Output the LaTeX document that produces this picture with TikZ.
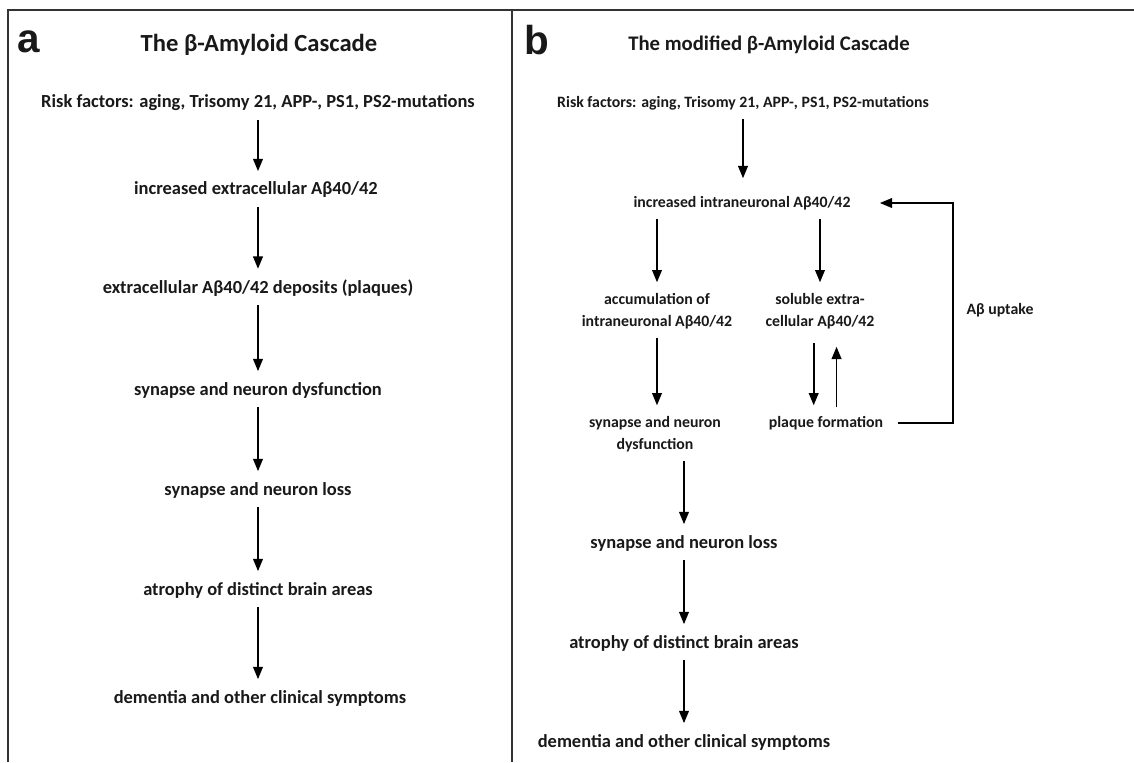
\documentclass[tikz,border=0pt]{standalone}
\usepackage{fontspec}
\setmainfont{Carlito}
\newfontfamily\panelfont{Liberation Sans}
\usetikzlibrary{arrows.meta}
\begin{document}
\begin{tikzpicture}[x=0.02cm,y=-0.02cm,
  txtA/.style={font=\bfseries\fontsize{10.5}{13}\selectfont,inner sep=3pt,align=center,text=black!90},
  txtB/.style={font=\bfseries\fontsize{9}{12.5}\selectfont,inner sep=3pt,align=center,text=black!90},
  ttl/.style={font=\bfseries\fontsize{14}{16}\selectfont,text=black!90},
  panel/.style={font=\panelfont\bfseries\fontsize{23}{26}\selectfont,text=black!90},
  arr/.style={line width=1pt,-{Triangle[length=7pt,width=5.5pt]},shorten <=2pt,shorten >=3pt}]
\useasboundingbox[fill=white] (0,0) rectangle (1134,762);

% frame
\draw[line width=1.3pt,black!80] (8,762) -- (8,10) -- (1134,10);
\draw[line width=1.3pt,black!80] (512,10) -- (512,762);

% panel a
\node[panel] (pa) at (29,42) {a};
\node[ttl] (ttlA) at (259,45) {The β-Amyloid Cascade};
\node[txtA] (riskA) at (258,103) {Risk factors: aging, Trisomy 21, APP-, PS1, PS2-mutations};
\node[txtA] (incA) at (256,190) {increased extracellular Aβ40/42};
\node[txtA] (depA) at (258,288) {extracellular Aβ40/42 deposits (plaques)};
\node[txtA] (dysA) at (258,390) {synapse and neuron dysfunction};
\node[txtA] (lossA) at (258,490) {synapse and neuron loss};
\node[txtA] (atrA) at (258,590) {atrophy of distinct brain areas};
\node[txtA] (demA) at (260,698) {dementia and other clinical symptoms};

\foreach \u/\v in {riskA/incA,incA/depA,depA/dysA,dysA/lossA,lossA/atrA,atrA/demA}
	\draw[arr] (\u.south -| lossA) -- (\v.north -| lossA);

% panel b
\node[panel] (pb) at (537,40) {b};
\node[ttl,font=\bfseries\fontsize{11.8}{14}\selectfont] (ttlB) at (769,45) {The modified β-Amyloid Cascade};
\node[txtB] (riskB) at (743,103) {Risk factors: aging, Trisomy 21, APP-, PS1, PS2-mutations};
\node[txtB] (incB) at (742,203) {increased intraneuronal Aβ40/42};
\node[txtB] (accB) at (657,311) {accumulation of\\intraneuronal Aβ40/42};
\node[txtB] (solB) at (820,311) {soluble extra-\\cellular Aβ40/42};
\node[txtB] (dysB) at (655,434) {synapse and neuron\\dysfunction};
\node[txtB] (plqB) at (826,423) {plaque formation};
\node[txtA] (lossB) at (684,543) {synapse and neuron loss};
\node[txtA] (atrB) at (684,643) {atrophy of distinct brain areas};
\node[txtA] (demB) at (684,742) {dementia and other clinical symptoms};
\node[txtB] (uptB) at (1000,310) {Aβ uptake};
\coordinate (bend) at (953,423);

\draw[arr,shorten >=7pt] (riskB) -- (riskB |- incB.north);
\draw[arr] (incB.south -| accB) -- (accB);
\draw[arr] (incB.south -| solB) -- (solB);
\draw[arr] (accB) -- (accB |- dysB.north);
\draw[arr] (dysB.south -| lossB) -- (lossB);
\foreach \u/\v in {lossB/atrB,atrB/demB}
	\draw[arr] (\u) -- (\v);

% plaque loop
\draw[arr,shorten <=5pt] ([xshift=-7pt]plqB.north |- solB.south) -- ([xshift=-7pt]plqB.north);
\draw[arr,shorten >=7pt] ([xshift=6pt]plqB.north) -- ([xshift=6pt]plqB.north |- solB.south);
\draw[arr,shorten <=5.5pt,shorten >=13.5pt] (plqB.east) -- (bend) |- (incB.east);
\end{tikzpicture}
\end{document}
